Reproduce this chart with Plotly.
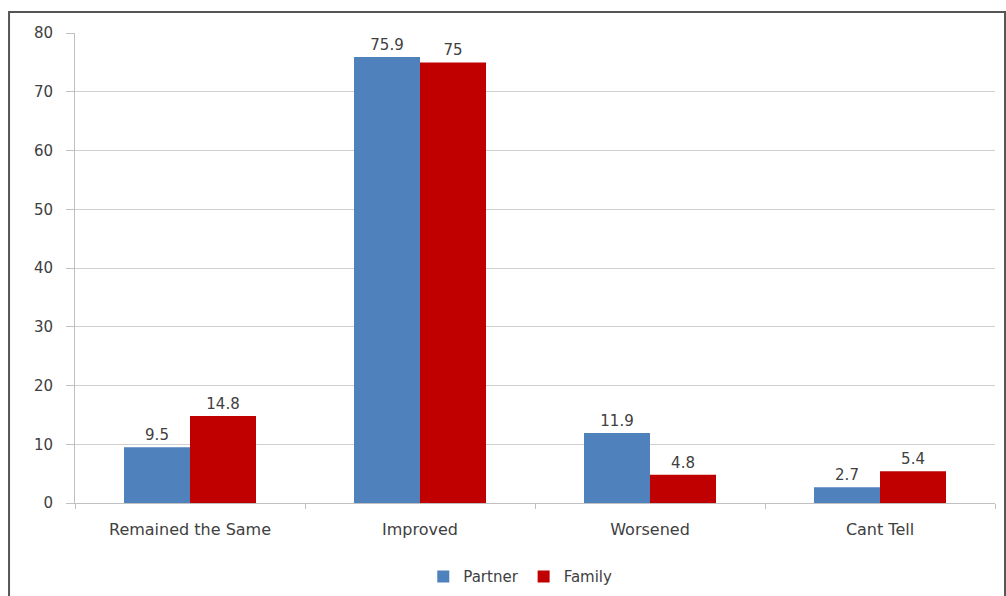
import plotly.graph_objects as go

categories = ["Remained the Same", "Improved", "Worsened", "Cant Tell"]
partner = [9.5, 75.9, 11.9, 2.7]
family = [14.8, 75, 4.8, 5.4]
partner_labels = ["9.5", "75.9", "11.9", "2.7"]
family_labels = ["14.8", "75", "4.8", "5.4"]
y_ticks = [0, 10, 20, 30, 40, 50, 60, 70, 80]

text_color = "#404040"
font_family = "'DejaVu Sans', sans-serif"

fig = go.Figure()
fig.add_trace(go.Bar(
    name="Partner", x=categories, y=partner,
    text=partner_labels, textposition="outside",
    marker=dict(color="#4f81bd", line=dict(width=0)),
    textfont=dict(size=15, color=text_color, family=font_family),
    cliponaxis=False,
))
fig.add_trace(go.Bar(
    name="Family", x=categories, y=family,
    text=family_labels, textposition="outside",
    marker=dict(color="#c00000", line=dict(width=0)),
    textfont=dict(size=15, color=text_color, family=font_family),
    cliponaxis=False,
))

fig.update_layout(
    width=1006, height=596,
    margin=dict(l=75, r=11, t=33, b=93, autoexpand=False),
    paper_bgcolor="white", plot_bgcolor="white",
    barmode="group", bargap=0.426, bargroupgap=0,
    font=dict(family=font_family, size=15, color=text_color),
    showlegend=True,
    legend=dict(
        orientation="h", x=0.484, xanchor="center",
        y=-0.157, yanchor="middle",
        font=dict(size=15, color=text_color),
        itemwidth=30, traceorder="normal",
    ),
)

fig.update_yaxes(
    range=[0, 80], tickvals=y_ticks,
    showgrid=True, gridcolor="#d0d0d0", gridwidth=1,
    showline=True, linecolor="#c0c0c0", linewidth=1,
    ticks="outside", ticklen=8, tickcolor="#c0c0c0",
    ticklabelstandoff=10,
    tickfont=dict(size=15, color=text_color),
    zeroline=False,
)
fig.update_xaxes(
    showline=True, linecolor="#c0c0c0", linewidth=1,
    ticks="outside", ticklen=5, tickcolor="#c0c0c0",
    tickson="boundaries", ticklabelstandoff=12,
    tickfont=dict(size=16, color=text_color),
)

# outer chart frame
fig.add_shape(
    type="rect", xref="paper", yref="paper",
    x0=-0.0717, x1=1.0109, y0=-0.3, y1=1.0447,
    line=dict(color="#555555", width=2), fillcolor="rgba(0,0,0,0)",
    layer="below",
)

fig.write_html("out.html")
